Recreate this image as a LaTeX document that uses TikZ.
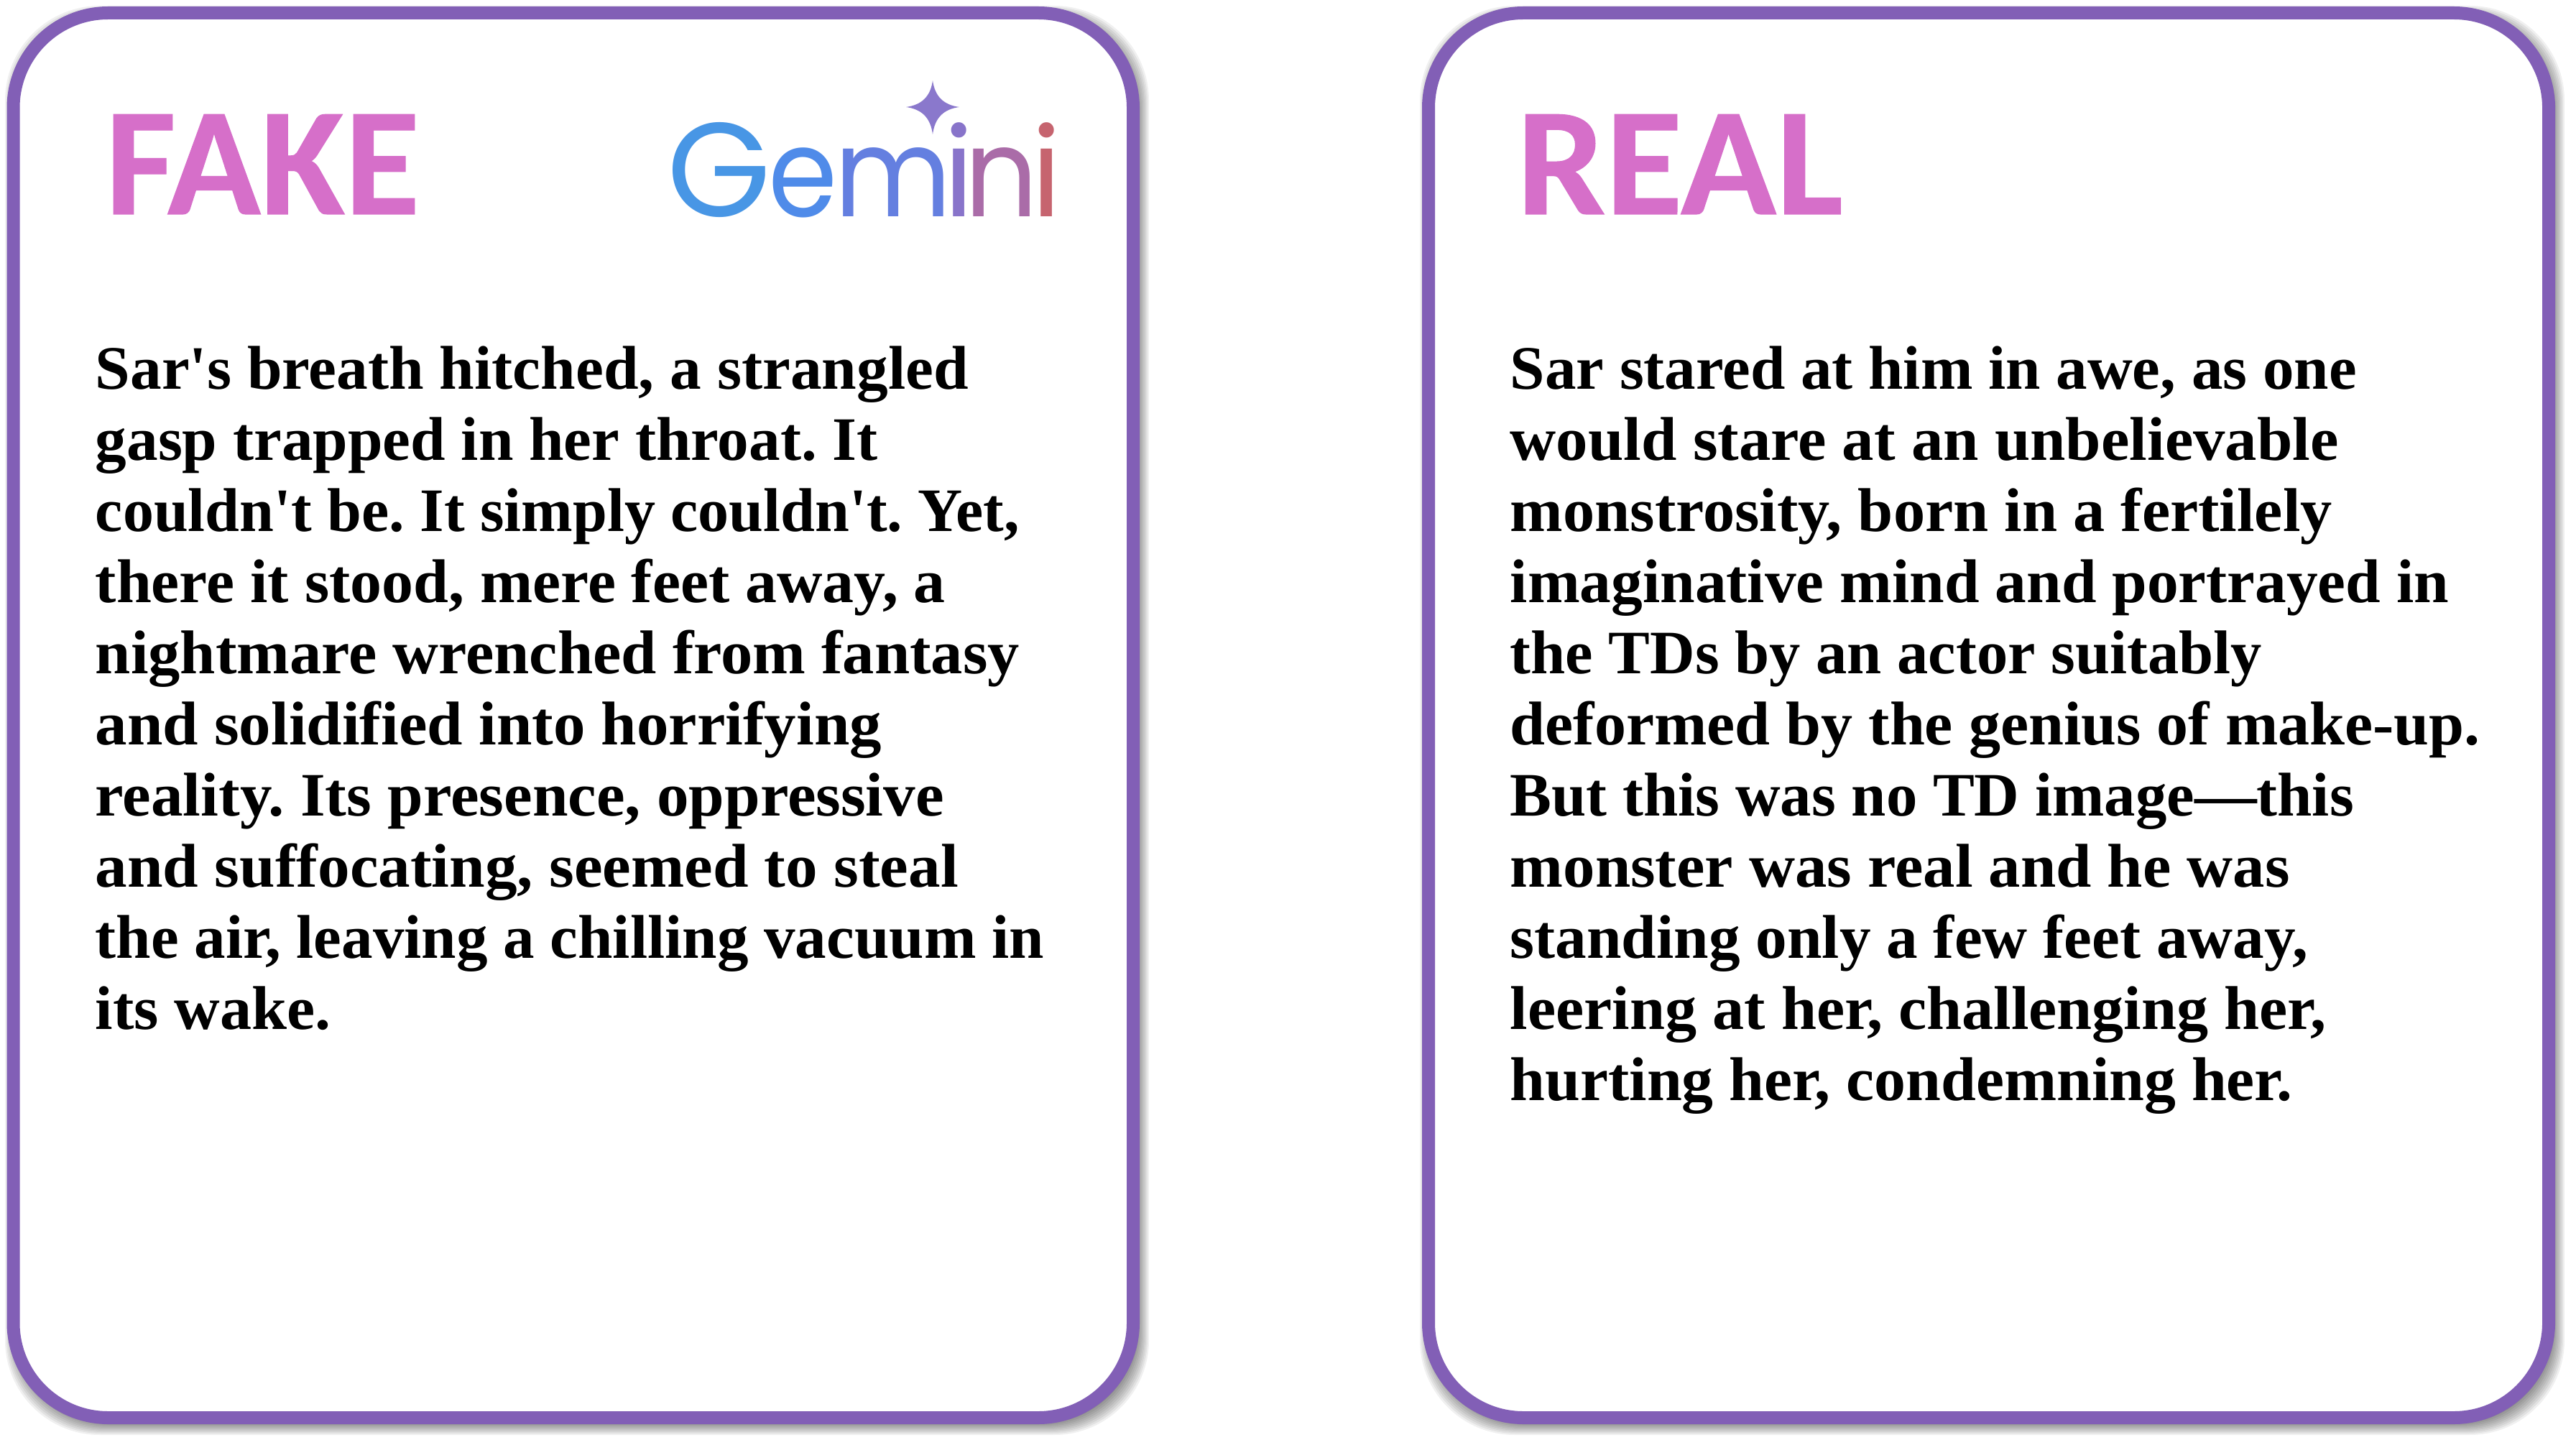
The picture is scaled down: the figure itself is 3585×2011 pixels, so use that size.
\documentclass[tikz,border=0pt]{standalone}
\usepackage{graphicx}
\usepackage{fontspec}
\setmainfont{Liberation Serif}
\newfontfamily\bodyfont{Liberation Serif Bold}
\newfontfamily\headfont[FakeBold=0.5]{Carlito Bold}
\newfontfamily\logofont{Poppins}
\definecolor{cardpurple}{HTML}{825FB6}
\definecolor{headpink}{HTML}{D66FC9}
\definecolor{starpurple}{HTML}{8A78CC}
\definecolor{gemA}{HTML}{4896E5}
\definecolor{gemB}{HTML}{4F8BE9}
\definecolor{gemC}{HTML}{647FE0}
\definecolor{gemE}{HTML}{8874CA}
\definecolor{gemF}{HTML}{AA6CA8}
\definecolor{gemH}{HTML}{C6646F}
\newcommand{\fitline}[2]{\resizebox{#1pt}{\height}{#2}}
\tikzset{
 cardbox/.style={draw=cardpurple,line width=4.5pt,fill=white,rounded corners=33pt},
 softshade/.style={black,opacity=0.06,rounded corners=33pt},
 headtext/.style={anchor=base west,inner sep=0pt,text=headpink,font=\headfont\fontsize{53.5}{60}\selectfont},
 bodytext/.style={anchor=north west,inner sep=0pt,align=left,text=black,font=\frenchspacing\bodyfont\fontsize{21.5}{24.75}\selectfont},
 logoletter/.style={anchor=base west,inner sep=0pt,font=\logofont\fontsize{43}{50}\selectfont},
}
\begin{document}
\begin{tikzpicture}[x=0.25pt,y=-0.25pt]
 \useasboundingbox (0,0) rectangle (3585,2011);
 \fill[white] (0,0) rectangle (3585,2011);
 % soft shadows
 \foreach \e in {-8,-6,...,8}{
  \fill[softshade] (10-\e+5,9-\e+7) rectangle (1586+\e+5,1982+\e+7);
  \fill[softshade] (1979-\e+5,9-\e+7) rectangle (3556+\e+5,1982+\e+7);
 }
 \path[cardbox] (18.5,18) rectangle (1577,1973);
 \path[cardbox] (1988,18) rectangle (3547,1973);
 \node[headtext] (fake) at (146,298) {FAKE};
 \node[headtext] (real) at (2110,298) {\scalebox{1.026}[1]{REAL}};
 % Gemini logo
 \node[logoletter,text=gemA] (lg) at (928,302) {\fontsize{46.5}{50}\selectfont G};
 \node[logoletter,text=gemB] (le) at (1069,302) {\scalebox{0.9}[1]{e}};
 \node[logoletter,text=gemC] (lm) at (1161,302) {\scalebox{0.92}[1]{m}};
 \node[logoletter,text=gemE] (li) at (1313,302) {i};
 \node[logoletter,text=gemF] (ln) at (1342,302) {\scalebox{0.93}[1]{n}};
 \node[logoletter,text=gemH] (lj) at (1435,302) {i};
 \fill[starpurple] (1298,112) .. controls (1301,134) and (1313,146) .. (1335,149)
   .. controls (1313,152) and (1301,164) .. (1298,187)
   .. controls (1295,164) and (1283,152) .. (1261,149)
   .. controls (1283,146) and (1295,134) .. (1298,112) -- cycle;
 \node[bodytext] (leftbody) at (132,481) {\fitline{303.75}{Sar's breath hitched, a strangled}\\
\fitline{272.25}{gasp trapped in her throat. It}\\
\fitline{321.5}{couldn't be. It simply couldn't. Yet,}\\
\fitline{295.75}{there it stood, mere feet away, a}\\
\fitline{321.5}{nightmare wrenched from fantasy}\\
\fitline{273.5}{and solidified into horrifying}\\
\fitline{295.25}{reality. Its presence, oppressive}\\
\fitline{300.25}{and suffocating, seemed to steal}\\
\fitline{330}{the air, leaving a chilling vacuum in}\\
\fitline{82}{its wake.}};
 \node[bodytext] (rightbody) at (2101,481) {\fitline{294.5}{Sar stared at him in awe, as one}\\
\fitline{288.25}{would stare at an unbelievable}\\
\fitline{286}{monstrosity, born in a fertilely}\\
\fitline{326.5}{imaginative mind and portrayed in}\\
\fitline{261.5}{the TDs by an actor suitably}\\
\fitline{337.5}{deformed by the genius of make-up.}\\
\fitline{293.5}{But this was no TD image—this}\\
\fitline{271.25}{monster was real and he was}\\
\fitline{277.5}{standing only a few feet away,}\\
\fitline{283.75}{leering at her, challenging her,}\\
\fitline{272.25}{hurting her, condemning her.}};
\end{tikzpicture}
\end{document}
